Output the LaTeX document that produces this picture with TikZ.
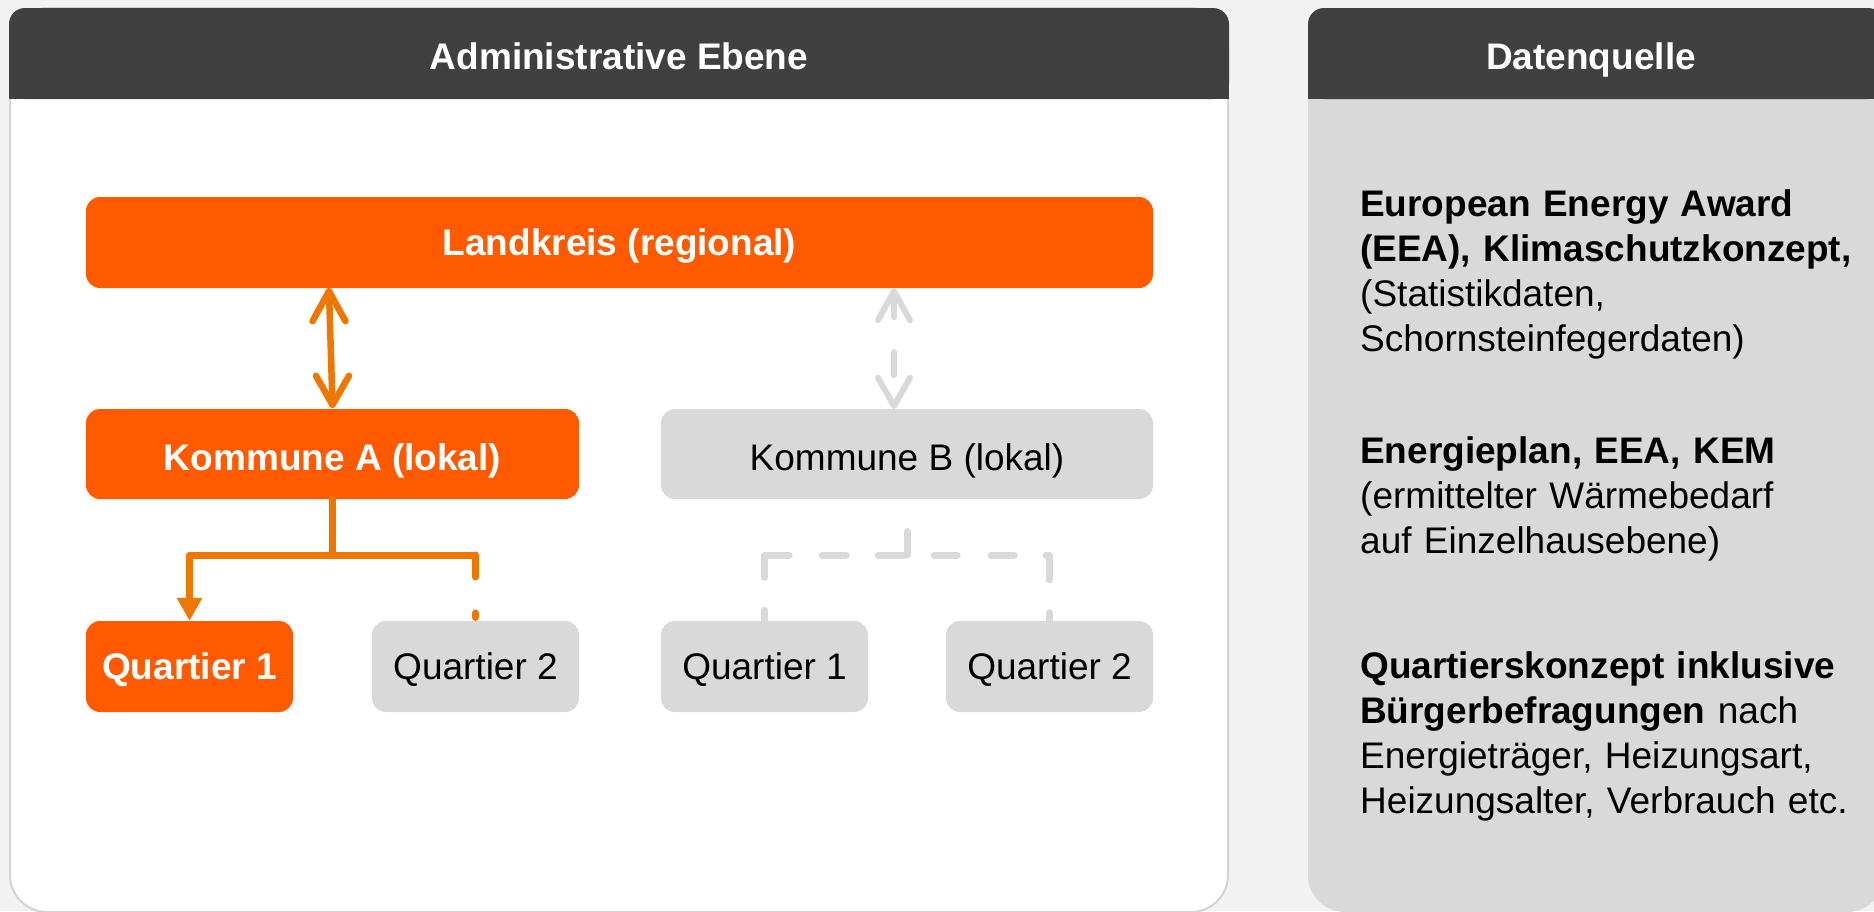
\documentclass[tikz,border=0pt]{standalone}
\usepackage{fontspec}
\setmainfont{Liberation Sans}
\usetikzlibrary{arrows.meta,calc}
\definecolor{bgc}{HTML}{F2F2F2}
\definecolor{hdr}{HTML}{404040}
\definecolor{orfill}{HTML}{FF5A00}
\definecolor{orline}{HTML}{EF7600}
\definecolor{gfill}{HTML}{D9D9D9}
\definecolor{glinec}{HTML}{D9D9D9}
\definecolor{pborder}{HTML}{D4D4D4}
\begin{document}
\begin{tikzpicture}[x=1pt,y=-1pt,
  basefont/.style={font=\fontsize{37}{45}\selectfont},
  boldfont/.style={font=\fontsize{37}{45}\selectfont\bfseries},
  boxbase/.style={inner sep=0pt, rounded corners=14pt, text height=26.5pt, text depth=0pt, minimum height=91pt},
  obox/.style={boxbase, fill=orfill, text=white, boldfont},
  gbox/.style={boxbase, fill=gfill, text=black, basefont},
  lowtext/.style={text height=33.5pt},
  htitle/.style={inner sep=0pt, text=white, boldfont, text height=26.5pt, text depth=0pt},
  rtext/.style={inner sep=0pt, anchor=base west, text width=520pt, align=left, basefont, text=black},
  oline/.style={draw=orline, line width=7pt, line cap=round, line join=round},
  glink/.style={draw=glinec, line width=7pt, line cap=round, line join=round},
]
% background
\fill[bgc] (0,0) rectangle (1874,911);
\useasboundingbox (0,0) rectangle (1874,911);
% left panel
\filldraw[fill=white, draw=pborder, line width=2pt, rounded corners=37pt] (10,8) rectangle (1228,912);
\fill[hdr, rounded corners=16pt] (9,8) rectangle (1229,99);
\fill[hdr] (9,60) rectangle (1229,99);
% right panel
\fill[gfill, rounded corners=37pt] (1308,8) rectangle (1884,912);
\fill[hdr, rounded corners=16pt] (1308,8) rectangle (1884,99);
\fill[hdr] (1308,60) rectangle (1884,99);
% titles
\node[htitle] (t1) at (619,56) {Administrative Ebene};
\node[htitle] (t2) at (1591,56) {Datenquelle};
% boxes
\node[obox, minimum width=1067pt] (land) at (619.5,242.5) {Landkreis (regional)};
\node[obox, lowtext, minimum width=493pt, minimum height=90pt] (ka) at (332.5,454) {Kommune A (lokal)};
\node[gbox, lowtext, minimum width=492pt, minimum height=90pt] (kb) at (907,454) {Kommune B (lokal)};
\node[obox, minimum width=207pt] (q1a) at (189.5,666.5) {Quartier 1};
\node[gbox, minimum width=207pt] (q2a) at (475.5,666.5) {Quartier 2};
\node[gbox, minimum width=207pt] (q1b) at (764.5,666.5) {Quartier 1};
\node[gbox, minimum width=207pt] (q2b) at (1049.5,666.5) {Quartier 2};
% data source texts
\node[rtext] (d1) at (1360,216.7) {\textbf{European Energy Award}\\\textbf{(EEA), Klimaschutzkonzept,}\\(Statistikdaten,\\Schornsteinfegerdaten)};
\node[rtext] (d2) at (1360,463) {\textbf{Energieplan, EEA, KEM}\\(ermittelter Wärmebedarf\\auf Einzelhausebene)};
\node[rtext] (d3) at (1360,678) {\textbf{Quartierskonzept inklusive}\\\textbf{Bürgerbefragungen} nach\\Energieträger, Heizungsart,\\Heizungsalter, Verbrauch etc.};
% helper level of the branch lines
\coordinate (hy) at (0,555);
% orange double arrow Landkreis <-> Kommune A
\coordinate (oat) at ($(land.south -| ka.north)+(-3.5,3)$);
\coordinate (oab) at ($(ka.north)+(0,-4)$);
\draw[oline, line width=6.5pt] (oat) -- (oab);
\draw[oline, line width=6.5pt] ($(oat)+(-16.5,30)$) -- (oat) -- ($(oat)+(16.5,30)$);
\draw[oline, line width=6.5pt] ($(oab)+(-16.5,-29)$) -- (oab) -- ($(oab)+(16.5,-29)$);
% gray dashed double arrow Landkreis <-> Kommune B
\coordinate (gat) at ($(land.south)+(274.5,3)$);
\coordinate (gab) at ($(kb.north)+(-13,-3)$);
\draw[glink, line width=6pt, dash pattern=on 23pt off 35pt on 23pt off 100pt] ($(gat)+(0,3)$) -- (gab);
\draw[glink, line width=6pt] ($(gat)+(-16,29)$) -- (gat) -- ($(gat)+(16,29)$);
\draw[glink, line width=6pt] ($(gab)+(-16,-28)$) -- (gab) -- ($(gab)+(16,-28)$);
% orange tree Kommune A -> Quartiere
\draw[oline] (ka.south) -- (ka.south |- hy);
\draw[oline, -{Triangle[width=24pt,length=23pt]}] (q2a.north |- hy) -- (q1a.north |- hy) -- (q1a.north);
\draw[oline, dash pattern=on 22pt off 36pt on 4.5pt off 100pt] (q2a.north |- hy) -- (q2a.north);
% gray dashed tree Kommune B -> Quartiere
\draw[glink, dash pattern=on 23.5pt off 100pt] (kb.south |- hy) -- (kb.south);
\draw[glink, dash pattern=on 10.5pt off 33pt on 47pt off 33pt on 24pt off 32pt on 26pt off 30pt on 23pt off 34pt on 23pt off 32pt on 28pt off 33pt on 11pt off 50pt] (q1b.north) -- (q1b.north |- hy) -- (q2b.north |- hy) -- (q2b.north);
\end{tikzpicture}
\end{document}
